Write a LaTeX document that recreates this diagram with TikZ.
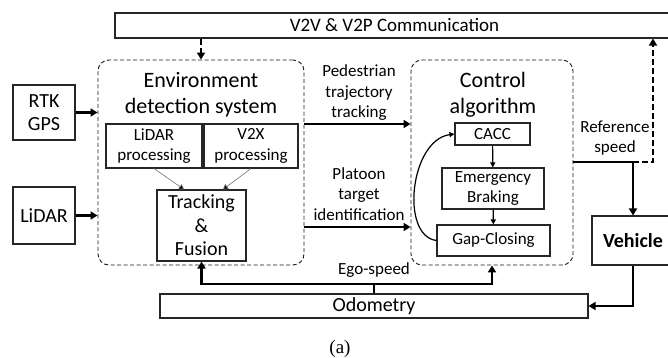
\documentclass[tikz,border=0pt]{standalone}
\usepackage{fontspec}
\setmainfont{Carlito}
\newfontfamily\capfont{Liberation Serif}
\usetikzlibrary{arrows.meta}

\tikzset{
  blk/.style={draw=black!85,line width=1.1pt,align=center,inner sep=0pt},
  grp/.style={draw=black!90,dash pattern=on 4pt off 2.5pt,line width=0.9pt,rounded corners=11pt,inner sep=0pt},
  sig/.style={line width=2.3pt,-{Triangle[length=7pt,width=8pt]}},
  sigd/.style={sig,dash pattern=on 6pt off 3pt},
  lnk/.style={line width=1.2pt,-{Triangle[length=5pt,width=5pt]}},
  fine/.style={draw=black!55,line width=0.6pt,-{Triangle[length=5pt,width=6pt,fill=black]}},
  big/.style={font=\fontsize{22}{26}\selectfont},
  mid/.style={font=\fontsize{20}{23.5}\selectfont},
  sml/.style={font=\fontsize{17}{20.5}\selectfont},
}

\begin{document}
\begin{tikzpicture}[x=1pt,y=-1pt,font=\fontsize{19}{23}\selectfont]
\clip (0,0) rectangle (668,358);

% outer blocks
\node[blk,minimum width=559,minimum height=25] (v2v) at (394.5,25.5) {V2V \& V2P Communication};
\node[blk,mid,minimum width=62,minimum height=55] (rtk) at (44,112.5) {RTK\\GPS};
\node[blk,mid,minimum width=62,minimum height=57] (lidar) at (44,215.5) {LiDAR};
\node[blk,mid,minimum width=428,minimum height=24] (odo) at (374,306) {Odometry};
\node[blk,mid,minimum width=82,minimum height=49,font=\fontsize{20}{23.5}\bfseries] (veh) at (633,240.5) {Vehicle};

% environment detection
\node[grp,minimum width=206,minimum height=205] (env) at (201,162.5) {};
\node[big,align=center] (envt) at (201,95) {Environment\\detection system};
\node[blk,sml,minimum width=96,minimum height=44] (lidp) at (154,146) {LiDAR\\processing};
\node[blk,sml,minimum width=94,minimum height=44] (v2xp) at (251,146) {V2X\\processing};
\node[blk,mid,minimum width=89,minimum height=71] (trk) at (201.5,225.5) {Tracking\\\&\\Fusion};

% control algorithm
\node[grp,minimum width=162,minimum height=205] (ctrl) at (492,162.5) {};
\node[big,align=center] (ctrlt) at (493,95) {Control\\algorithm};
\node[blk,sml,minimum width=75,minimum height=22] (cacc) at (492.5,134) {CACC};
\node[blk,sml,minimum width=102,minimum height=41] (eb) at (493,188.5) {Emergency\\Braking};
\node[blk,sml,minimum width=113,minimum height=31] (gc) at (493.5,240.5) {Gap-Closing};

% labels
\node[sml,align=center] (ped) at (359,93) {Pedestrian\\trajectory\\tracking};
\node[sml,align=center] (plt) at (359,194) {Platoon\\target\\identification};
\node[sml,align=center] (ref) at (615,138) {Reference\\speed};
\node[sml] (ego) at (374,270) {Ego-speed};
\node[font=\capfont\fontsize{19}{23}\selectfont] (cap) at (340,349) {(a)};

\coordinate (eg) at (374,284);
\coordinate (rs) at (633,162);
\coordinate (rd) at (653,162);

% connections
\draw[sigd] (env.north |- v2v.south) -- (env.north);
\draw[sig] (rtk.east) -- (rtk.east -| env.west);
\draw[sig] (lidar.east) -- (lidar.east -| env.west);
\draw[fine] (lidp.south) -- ([xshift=-17.5]trk.north);
\draw[fine] (v2xp.south) -- ([xshift=21.5]trk.north);
\draw[sig] (env.east |- 0,124) -- (ctrl.west |- 0,124);
\draw[sig] (env.east |- 0,227) -- (ctrl.west |- 0,227);
\draw[lnk] (cacc) -- (eb);
\draw[lnk] (eb) -- (gc);
\draw[lnk] (gc.west) .. controls (400,236) and (410,140) .. (cacc.west);
\draw[line width=2.3pt] (ctrl.east |- rs) -- (rs);
\draw[sig] (rs) -- (veh.north);
\draw[sigd] (rs) -- (rd) -- (rd |- v2v.south);
\draw[sig] (veh.south) |- (odo.east);
\draw[line width=2.3pt] (odo.north) -- (eg);
\draw[sig] (eg) -| (trk.south);
\draw[sig] (eg) -| (ctrl.south);
\end{tikzpicture}
\end{document}
